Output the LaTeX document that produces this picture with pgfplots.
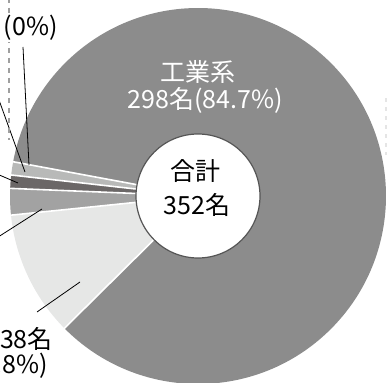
\documentclass[border=0pt]{standalone}
\usepackage{pgfplots}
\pgfplotsset{compat=1.18}
\usepackage{fontspec}
\newfontfamily\jp{Noto Sans CJK JP}
\definecolor{cMain}{HTML}{8C8C8C}
\definecolor{cLight}{HTML}{E6E7E6}
\definecolor{cMid}{HTML}{A2A2A2}
\definecolor{cDark}{HTML}{6B6767}
\definecolor{cLmid}{HTML}{B8B9B8}
\definecolor{cRing}{HTML}{555555}
\begin{document}
\begin{tikzpicture}
\begin{axis}[width=387pt,height=382pt,scale only axis,
  xmin=0,xmax=387,ymin=0,ymax=382,hide axis,clip=true]
% values (names): 0 (0%), 4, 4, 8, 38 (10.8%), 298 (84.7%); total 352
\pgfplotsextra{
  \gdef\s{169.5}
  \foreach \v/\c in {4/cLmid,4/cDark,8/cMid,38/cLight,298/cMain}{
    \pgfmathsetmacro{\e}{\s+\v/352*360}
    \fill[\c] (axis cs:198,186) -- ++(\s:188pt) arc[start angle=\s,end angle=\e,radius=188pt] -- cycle;
    \xdef\s{\e}
  }
  \gdef\s{169.5}
  \foreach \v in {4,4,8,38,298}{
    \draw[white,line width=1.6pt] (axis cs:198,186) -- ++(\s:190pt);
    \pgfmathsetmacro{\e}{\s+\v/352*360}
    \xdef\s{\e}
  }
  \fill[white,draw=cRing,line width=1.2pt] (axis cs:198,186) circle[radius=62pt];
  % leader lines
  \draw[black,line width=0.8pt] (axis cs:23,335) -- (axis cs:29,217);
  \draw[black,line width=0.8pt] (axis cs:-5,293) -- (axis cs:25,210);
  \draw[black,line width=0.8pt] (axis cs:-10,211) -- (axis cs:18,199);
  \draw[black,line width=0.8pt] (axis cs:-5,143) -- (axis cs:42,173);
  \draw[black,line width=0.8pt] (axis cs:37,70) -- (axis cs:80,100);
  % dashed guides
  \draw[gray!75,line width=1.6pt,dash pattern=on 5pt off 5pt] (axis cs:9,384) -- (axis cs:9,242);
  \draw[gray!20,line width=1.6pt,dash pattern=on 4pt off 5pt] (axis cs:386,284) -- (axis cs:386,227);
  % labels
  \node[anchor=east,fill=white,inner sep=1pt,font=\jp\fontsize{25}{30}\selectfont] at (axis cs:59,354) {(0\%)};
  \node[anchor=east,inner sep=0pt,font=\jp\fontsize{25}{30}\selectfont] at (axis cs:53,43) {38名};
  \node[anchor=east,inner sep=0pt,font=\jp\fontsize{25}{30}\selectfont] at (axis cs:48,16) {(10.8\%)};
  \node[white,inner sep=0pt,font=\jp\fontsize{25}{30}\selectfont] at (axis cs:198,310) {工業系};
  \node[white,inner sep=0pt,font=\jp\fontsize{25}{30}\selectfont] at (axis cs:205,282) {298名(84.7\%)};
  \node[black,inner sep=0pt,font=\jp\fontsize{25}{30}\selectfont] at (axis cs:195,211) {合計};
  \node[black,inner sep=0pt,font=\jp\fontsize{25}{30}\selectfont] at (axis cs:197,177) {352名};
}
\end{axis}
\end{tikzpicture}
\end{document}
